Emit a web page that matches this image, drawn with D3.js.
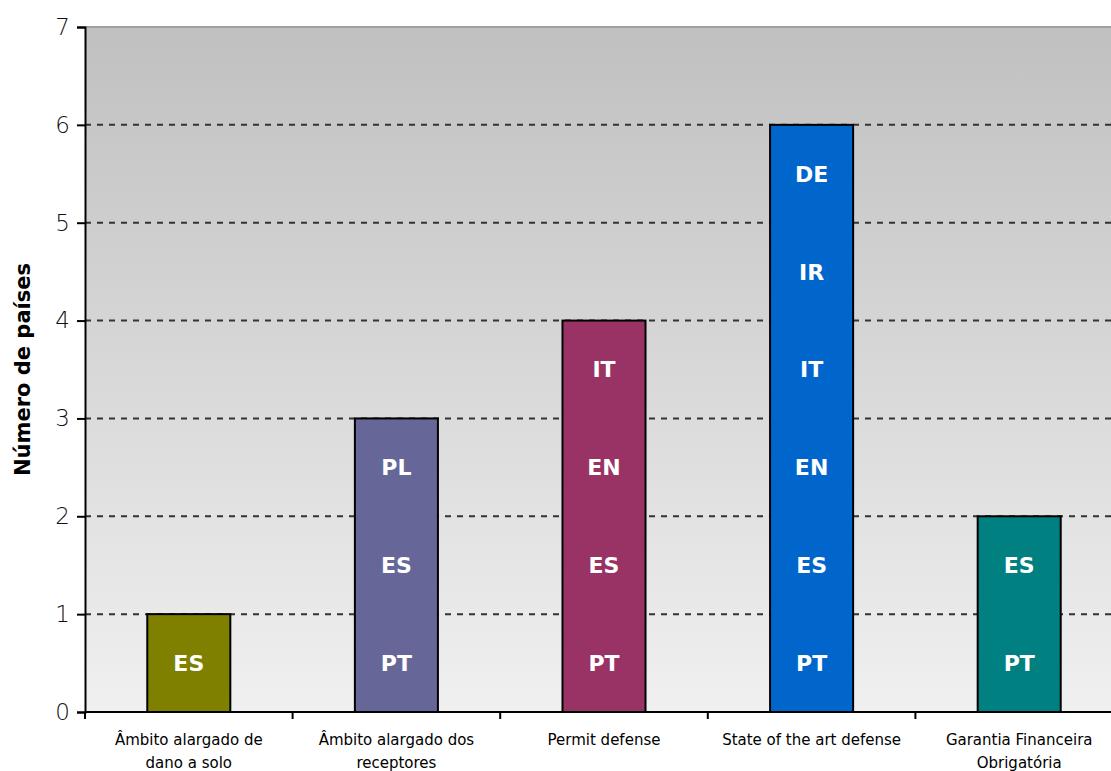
<!DOCTYPE html>
<html>
<head>
<meta charset="utf-8">
<script src="https://cdn.jsdelivr.net/npm/d3@7"></script>
<style>
  body { margin: 0; background: #fff; }
  svg { display: block; }
</style>
</head>
<body>
<div id="chart"></div>
<script>
// categories (label lines), counts and the countries stacked in each bar (bottom to top)
var categories = [
  ["Âmbito alargado de", "dano a solo"],
  ["Âmbito alargado dos", "receptores"],
  ["Permit defense"],
  ["State of the art defense"],
  ["Garantia Financeira", "Obrigatória"]
];
var values = [1, 3, 4, 6, 2];
var countries = [
  ["ES"],
  ["PT", "ES", "PL"],
  ["PT", "ES", "EN", "IT"],
  ["PT", "ES", "EN", "IT", "IR", "DE"],
  ["PT", "ES"]
];
var barColors = ["#808000", "#666699", "#993366", "#0066cc", "#008080"];
var yTicks = [0, 1, 2, 3, 4, 5, 6, 7];
var yLabel = "Número de países";

var width = 1111, height = 771;
var margin = {top: 27, left: 85, bottom: 59};
var plotRight = 1123; // plot area runs past the right edge of the picture

var svg = d3.select("#chart").append("svg")
  .attr("width", width)
  .attr("height", height);

var x = d3.scaleBand()
  .domain(d3.range(categories.length))
  .range([margin.left, plotRight])
  .paddingInner(0.6)
  .paddingOuter(0.3);

var y = d3.scaleLinear()
  .domain([0, 7])
  .range([height - margin.bottom, margin.top]);

var step = x.step();
var x0 = margin.left;

// background gradient
var defs = svg.append("defs");
var grad = defs.append("linearGradient")
  .attr("id", "bg")
  .attr("x1", 0).attr("y1", 0).attr("x2", 0).attr("y2", 1);
grad.append("stop").attr("offset", "0%").attr("stop-color", "#c0c0c0");
grad.append("stop").attr("offset", "100%").attr("stop-color", "#f0f0f0");

svg.append("rect")
  .attr("x", x0)
  .attr("y", y(7))
  .attr("width", plotRight - x0)
  .attr("height", y(0) - y(7))
  .attr("fill", "url(#bg)");

// top border of plot area
svg.append("line")
  .attr("x1", x0).attr("x2", plotRight)
  .attr("y1", y(7)).attr("y2", y(7))
  .attr("stroke", "#a0a0a0")
  .attr("stroke-width", 2);

// dashed gridlines
svg.append("g")
  .selectAll("line")
  .data(yTicks.filter(function(d){ return d > 0 && d < 7; }))
  .enter().append("line")
  .attr("x1", x0).attr("x2", plotRight)
  .attr("y1", function(d){ return y(d); })
  .attr("y2", function(d){ return y(d); })
  .attr("stroke", "#333")
  .attr("stroke-width", 2)
  .attr("stroke-dasharray", "6,6");

// bars
var bars = svg.append("g")
  .selectAll("g")
  .data(values)
  .enter().append("g");

bars.append("rect")
  .attr("x", function(d, i){ return x(i); })
  .attr("y", function(d){ return y(d); })
  .attr("width", x.bandwidth())
  .attr("height", function(d){ return y(0) - y(d); })
  .attr("fill", function(d, i){ return barColors[i]; })
  .attr("stroke", "#000")
  .attr("stroke-width", 2);

// country labels, one per unit segment
bars.each(function(d, i){
  d3.select(this).selectAll("text")
    .data(countries[i])
    .enter().append("text")
    .attr("x", x(i) + x.bandwidth() / 2)
    .attr("y", function(c, k){ return y(k + 0.5); })
    .attr("dy", "0.36em")
    .attr("text-anchor", "middle")
    .attr("fill", "#fff")
    .style("font-family", "'DejaVu Sans', sans-serif")
    .style("font-weight", "bold")
    .style("font-size", "22px")
    .text(function(c){ return c; });
});

// y axis
var yAxis = svg.append("g")
  .attr("transform", "translate(" + x0 + ",0)")
  .call(d3.axisLeft(y).tickValues(yTicks).tickSize(8).tickPadding(7).tickFormat(d3.format("d")));
yAxis.select(".domain").attr("stroke", "#000").attr("stroke-width", 2);
yAxis.selectAll(".tick line").attr("stroke", "#000").attr("stroke-width", 2);
yAxis.selectAll("text")
  .attr("fill", "#111")
  .style("font-family", "'DejaVu Sans', sans-serif")
  .style("font-weight", "300")
  .style("font-size", "23px");

// x axis: baseline and boundary ticks
svg.append("line")
  .attr("x1", x0).attr("x2", plotRight)
  .attr("y1", y(0)).attr("y2", y(0))
  .attr("stroke", "#000")
  .attr("stroke-width", 2);

svg.append("g")
  .selectAll("line")
  .data(d3.range(categories.length + 1))
  .enter().append("line")
  .attr("x1", function(i){ return x0 + i * step; })
  .attr("x2", function(i){ return x0 + i * step; })
  .attr("y1", y(0))
  .attr("y2", y(0) + 7)
  .attr("stroke", "#000")
  .attr("stroke-width", 2);

// category labels
var catLabels = svg.append("g")
  .selectAll("text")
  .data(categories)
  .enter().append("text")
  .attr("text-anchor", "middle")
  .attr("fill", "#000")
  .style("font-family", "'DejaVu Sans', sans-serif")
  .style("font-size", "15px");

catLabels.each(function(lines, i){
  d3.select(this).selectAll("tspan")
    .data(lines)
    .enter().append("tspan")
    .attr("x", x(i) + x.bandwidth() / 2)
    .attr("y", function(l, k){ return y(0) + 33 + k * 23; })
    .text(function(l){ return l; });
});

// y axis title
svg.append("text")
  .attr("transform", "translate(30," + ((y(0) + y(7)) / 2) + ") rotate(-90)")
  .attr("text-anchor", "middle")
  .attr("fill", "#000")
  .style("font-family", "'DejaVu Sans', sans-serif")
  .style("font-weight", "bold")
  .style("font-size", "21px")
  .text(yLabel);
</script>
</body>
</html>
